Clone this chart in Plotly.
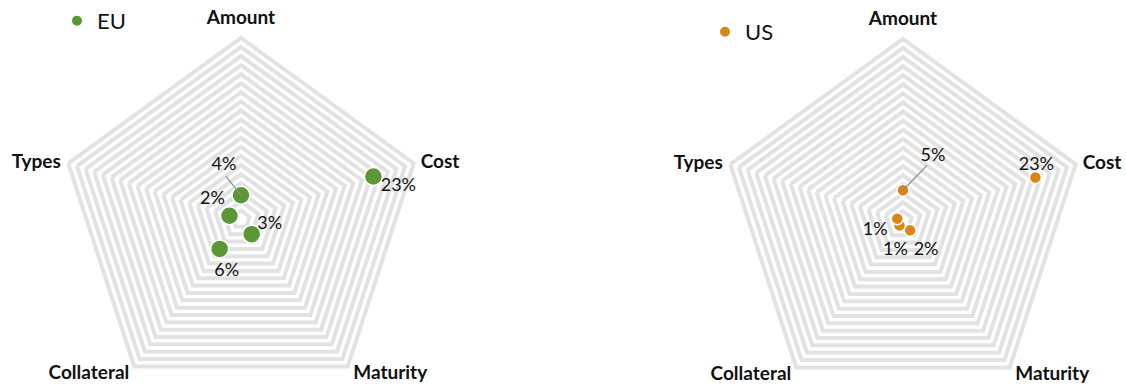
import math
import plotly.graph_objects as go

# ---------------- data ----------------
categories = ["Amount", "Cost", "Maturity", "Collateral", "Types"]
eu_values = [4, 23, 3, 6, 2]
us_values = [5, 23, 2, 1, 1]
series_names = ["EU", "US"]

# ---------------- axis / style settings ----------------
radial_max = 30
ring_step = 1.5
overlay_max = 36          # overlay polar (labels) reaches a bit beyond the grid
eu_color = "#5B9735"
us_color = "#DA8517"
grid_color = "#E2E2E2"
grid_width = 4
font_family = "Lato, 'Open Sans', sans-serif"
text_color = "#111111"

W, H = 1126, 440          # figure is taller than the 385px window; bottom part is empty
R_PX = 182                # polygon radius in pixels
CENTERS = [(241, 219), (903, 220)]

# label placement: pixel offsets (dx, dy) of data-label centres from their points
eu_label_off = [(-17, -32), (25, 8), (18, -12), (7, 21), (-17, -18)]
us_label_off = [(30, -36), (1, -14), (16, 18), (-4, 23), (-22, 10)]
# leader line (Amount labels) end, pixel offset from the point
eu_leader_off = (-15, -19)
us_leader_off = (24, -25)
# category labels: offset from polygon vertex and text anchoring
cat_label_off = [(0, -21), (7, -2), (5.5, 6), (-5, 6), (-7.5, -2)]
cat_label_pos = ["middle center", "middle right", "middle right", "middle left", "middle left"]

lead_idx = categories.index("Amount")
step_deg = 360 / len(categories)
px_per_unit = R_PX / radial_max


def shifted(r, theta_deg, dx, dy):
    """Polar position of a point moved by (dx, dy) screen pixels."""
    t = math.radians(theta_deg)
    x = r * px_per_unit * math.sin(t) + dx
    y = -r * px_per_unit * math.cos(t) + dy
    return math.hypot(x, y) / px_per_unit, math.degrees(math.atan2(x, -y))


def dom(cx, cy, R):
    return dict(x=[(cx - R) / W, (cx + R) / W], y=[1 - (cy + R) / H, 1 - (cy - R) / H])


fig = go.Figure()

# main markers
for vals, name, color, size, sp, lg in [
    (eu_values, series_names[0], eu_color, 18, "polar", "legend"),
    (us_values, series_names[1], us_color, 12, "polar2", "legend2"),
]:
    fig.add_trace(go.Scatterpolar(
        r=vals, theta=categories, mode="markers", name=name,
        marker=dict(size=size, color=color, line=dict(color="white", width=1.5)),
        subplot=sp, legend=lg, cliponaxis=False,
    ))

# leader lines, data labels and category labels on overlay polars
for vals, offs, lead, sp in [
    (eu_values, eu_label_off, eu_leader_off, "polar3"),
    (us_values, us_label_off, us_leader_off, "polar4"),
]:
    th0 = lead_idx * step_deg
    le = shifted(vals[lead_idx], th0, *lead)
    fig.add_trace(go.Scatterpolar(
        r=[vals[lead_idx], le[0]], theta=[th0, le[1]], mode="lines",
        line=dict(color="#8C8C8C", width=1.2), showlegend=False,
        subplot=sp, cliponaxis=False, hoverinfo="skip",
    ))
    lab = [shifted(v, i * step_deg, dx, dy + 2) for i, (v, (dx, dy)) in enumerate(zip(vals, offs))]
    fig.add_trace(go.Scatterpolar(
        r=[p[0] for p in lab], theta=[p[1] for p in lab], mode="text",
        text=[f"{v}%" for v in vals], textposition="middle center",
        textfont=dict(size=18, color=text_color, family=font_family),
        showlegend=False, subplot=sp, cliponaxis=False, hoverinfo="skip",
    ))
    cl = [shifted(radial_max, i * step_deg, dx, dy + 2) for i, (dx, dy) in enumerate(cat_label_off)]
    fig.add_trace(go.Scatterpolar(
        r=[p[0] for p in cl], theta=[p[1] for p in cl], mode="text",
        text=categories, textposition=cat_label_pos,
        textfont=dict(size=19, color=text_color, family=font_family, weight="bold"),
        showlegend=False, subplot=sp, cliponaxis=False, hoverinfo="skip",
    ))

cat_polar = dict(
    bgcolor="rgba(0,0,0,0)",
    gridshape="linear",
    radialaxis=dict(range=[0, radial_max], tick0=0, dtick=ring_step, showticklabels=False,
                    ticks="", showline=False, gridcolor=grid_color, gridwidth=grid_width,
                    layer="below traces"),
    angularaxis=dict(rotation=90, direction="clockwise", showgrid=False, ticks="",
                     showticklabels=False, showline=True, linecolor=grid_color,
                     linewidth=grid_width, layer="below traces"),
)
overlay_polar = dict(
    bgcolor="rgba(0,0,0,0)",
    radialaxis=dict(range=[0, overlay_max], visible=False),
    angularaxis=dict(rotation=90, direction="clockwise", visible=False, thetaunit="degrees"),
)

R_OV = R_PX * overlay_max / radial_max
d1 = dom(*CENTERS[0], R_PX)
d2 = dom(*CENTERS[1], R_PX)
o1 = dom(*CENTERS[0], R_OV)
o2 = dom(*CENTERS[1], R_OV)

legend_style = dict(xanchor="left", yanchor="middle", bgcolor="rgba(0,0,0,0)",
                    itemsizing="constant",
                    font=dict(size=22, color=text_color, family=font_family))

fig.update_layout(
    width=W, height=H,
    margin=dict(l=0, r=0, t=0, b=0),
    paper_bgcolor="white",
    font=dict(family=font_family),
    polar=dict(domain=d1, **cat_polar),
    polar2=dict(domain=d2, **cat_polar),
    polar3=dict(domain=o1, **overlay_polar),
    polar4=dict(domain=o2, **overlay_polar),
    legend=dict(x=57 / W, y=1 - 20 / H, **legend_style),
    legend2=dict(x=705 / W, y=1 - 32 / H, **legend_style),
    showlegend=True,
)

fig.write_html("out.html", config={"displayModeBar": False},
               post_script="document.body.style.margin='0';document.body.style.overflow='hidden';")
